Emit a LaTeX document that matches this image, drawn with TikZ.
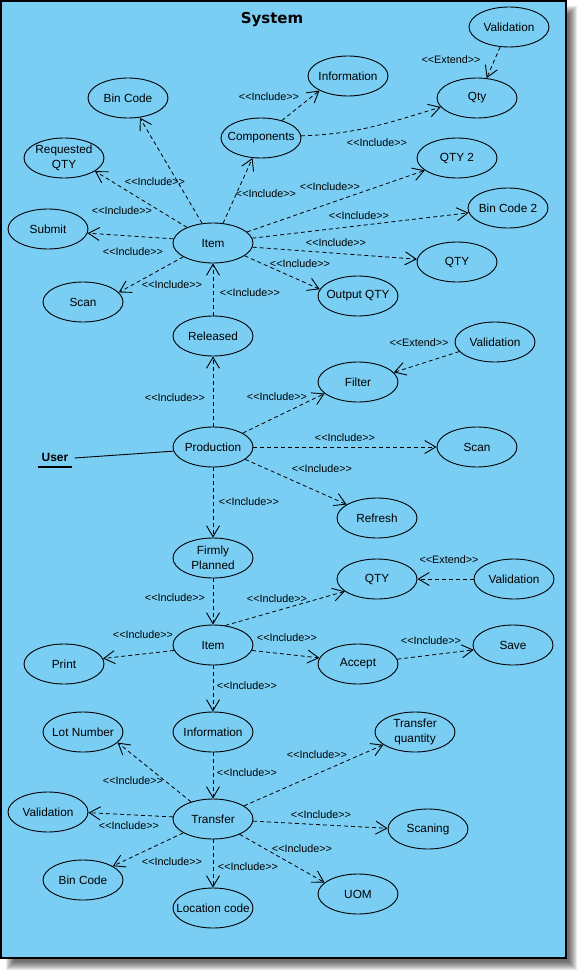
\documentclass[tikz,border=0pt]{standalone}
\usepackage{fontspec}
\newfontfamily\uf{Liberation Sans}
\newfontfamily\tf{DejaVu Sans}
\usetikzlibrary{shapes.geometric,arrows.meta}
\definecolor{bgblue}{RGB}{122,206,244}
\tikzset{
  uc/.style={draw, ellipse, minimum width=80pt, minimum height=40pt, inner sep=0pt, line width=0.9pt},
  ut/.style={font=\uf\fontsize{11.8}{15}\selectfont, align=center, inner sep=0pt},
  lbl/.style={font=\uf\fontsize{10.8}{12}\selectfont, inner sep=0pt},
  dep/.style={line width=0.8pt, dash pattern=on 4pt off 3pt, -{Straight Barb[length=11pt,width=13pt,line width=0.9pt]}},
}
\newcommand\ucase[4]{\node[uc,label={[ut]center:#4}] (#1) at (#2,#3) {};}
\newcommand\lab[4]{\node[lbl] (#1) at (#2,#3) {#4};}
\begin{document}
\begin{tikzpicture}[x=1pt,y=-1pt]
\useasboundingbox (0,0) rectangle (586,979);
% shadow
\foreach \k in {0,...,8} {
  \fill[black, opacity=0.085] (6+\k,6+\k) rectangle (577-\k,970-\k);
}
\draw[fill=bgblue, line width=1.1pt] (1,1) rectangle (566,958);
\node[font=\tf\bfseries\fontsize{15}{18}\selectfont, inner sep=0pt] (title) at (272,20) {System};

% top cluster
\ucase{bin1}{128}{98}{Bin Code}
\ucase{req}{64}{158}{Requested\\QTY}
\ucase{comp}{261}{138}{Components}
\ucase{sub}{48}{229}{Submit}
\ucase{item1}{213}{243}{Item}
\ucase{scan1}{83}{302}{Scan}
\ucase{rel}{213}{336}{Released}
\ucase{val1}{509}{27}{Validation}
\ucase{info1}{348}{76}{Information}
\ucase{qty1}{477}{98}{Qty}
\ucase{qty2}{457}{158}{QTY 2}
\ucase{bin2}{508}{208}{Bin Code 2}
\ucase{qty3}{457}{262}{QTY}
\ucase{outq}{358}{296}{Output QTY}
% middle
\ucase{prod}{213}{447}{Production}
\ucase{fp}{213}{558}{Firmly\\Planned}
\ucase{val2}{495}{342}{Validation}
\ucase{filt}{358}{382}{Filter}
\ucase{scan2}{477}{447}{Scan}
\ucase{refr}{377}{518}{Refresh}
% lower
\ucase{qty4}{377}{579}{QTY}
\ucase{val3}{514}{579}{Validation}
\ucase{item2}{213}{645}{Item}
\ucase{print}{64}{664}{Print}
\ucase{acc}{358}{664}{Accept}
\ucase{save}{513}{645}{Save}
\ucase{info2}{213}{732}{Information}
\ucase{lot}{83}{732}{Lot Number}
\ucase{tq}{415}{732}{Transfer\\quantity}
\ucase{tr}{213}{819}{Transfer}
\ucase{val4}{48}{812}{Validation}
\ucase{scng}{428}{829}{Scaning}
\ucase{bin3}{83}{880}{Bin Code}
\ucase{loc}{213}{908}{Location code}
\ucase{uom}{358}{894}{UOM}

% actor
\node[font=\uf\bfseries\fontsize{12}{14}\selectfont, inner sep=0pt] (user) at (55,457) {User};
\draw[line width=1.6pt] ([xshift=-3pt,yshift=-5.5pt]user.south west) -- ([xshift=3pt,yshift=-5.5pt]user.south east);
\draw[line width=0.9pt] ([xshift=6pt,yshift=-1pt]user.east) -- (prod.186);

% connectors top
\draw[dep] (item1.119) -- (bin1.-59);
\draw[dep] (item1.149) -- (req.-23);
\draw[dep] (item1.174) -- (sub.-6);
\draw[dep] (item1.205) -- (scan1.15);
\draw[dep] (item1.63) -- (comp.247);
\draw[dep] (rel.north) -- (item1.south);
\draw[dep] (comp.40) -- (info1.207);
\draw[dep] (comp.3) to[out=2,in=197] (qty1.194);
\draw[dep] (val1.246) -- (qty1.64);
\draw[dep] (item1.18) -- (qty2.201);
\draw[dep] (item1.7) -- (bin2.187);
\draw[dep] (item1.-6) -- (qty3.176);
\draw[dep] (item1.-22) -- (outq.170);
% middle
\draw[dep] (prod.north) -- (rel.south);
\draw[dep] (prod.25) -- (filt.199);
\draw[dep] (val2.195) -- (filt.15);
\draw[dep] (prod.east) -- (scan2.west);
\draw[dep] (prod.-21) -- (refr.156);
\draw[dep] (prod.south) -- (fp.north);
% lower
\draw[dep] (fp.south) -- (item2.north);
\draw[dep] (item2.58) -- (qty4.201);
\draw[dep] (val3.west) -- (qty4.east);
\draw[dep] (item2.188) -- (print.8);
\draw[dep] (item2.-8) -- (acc.171);
\draw[dep] (acc.7) -- (save.187);
\draw[dep] (item2.south) -- (info2.north);
\draw[dep] (info2.south) -- (tr.north);
\draw[dep] (tr.142) -- (lot.-17);
\draw[dep] (tr.177) -- (val4.-1);
\draw[dep] (tr.205) -- (bin3.25);
\draw[dep] (tr.south) -- (loc.north);
\draw[dep] (tr.-30) -- (uom.161);
\draw[dep] (tr.-3) -- (scng.179);
\draw[dep] (tr.23) -- (tq.202);

% labels
\lab{l1}{155}{182}{<<Include>>}
\lab{l2}{122}{211}{<<Include>>}
\lab{l3}{133}{252}{<<Include>>}
\lab{l4}{172}{285}{<<Include>>}
\lab{l5}{250}{293}{<<Include>>}
\lab{l6}{266}{194}{<<Include>>}
\lab{l7}{269}{97}{<<Include>>}
\lab{l8}{377}{143}{<<Include>>}
\lab{l9}{451}{60}{<<Extend>>}
\lab{l10}{330}{187}{<<Include>>}
\lab{l11}{359}{216}{<<Include>>}
\lab{l12}{336}{243}{<<Include>>}
\lab{l13}{300}{264}{<<Include>>}
\lab{l14}{175}{398}{<<Include>>}
\lab{l15}{277}{397}{<<Include>>}
\lab{l16}{419}{343}{<<Extend>>}
\lab{l17}{345}{438}{<<Include>>}
\lab{l18}{322}{469}{<<Include>>}
\lab{l19}{249}{502}{<<Include>>}
\lab{l20}{175}{598}{<<Include>>}
\lab{l21}{277}{599}{<<Include>>}
\lab{l22}{449}{560}{<<Extend>>}
\lab{l23}{143}{635}{<<Include>>}
\lab{l24}{287}{638}{<<Include>>}
\lab{l25}{431}{641}{<<Include>>}
\lab{l26}{247}{686}{<<Include>>}
\lab{l27}{247}{773}{<<Include>>}
\lab{l28}{133}{781}{<<Include>>}
\lab{l29}{129}{826}{<<Include>>}
\lab{l30}{172}{862}{<<Include>>}
\lab{l31}{248}{867}{<<Include>>}
\lab{l32}{302}{849}{<<Include>>}
\lab{l33}{321}{815}{<<Include>>}
\lab{l34}{317}{755}{<<Include>>}
\end{tikzpicture}
\end{document}
